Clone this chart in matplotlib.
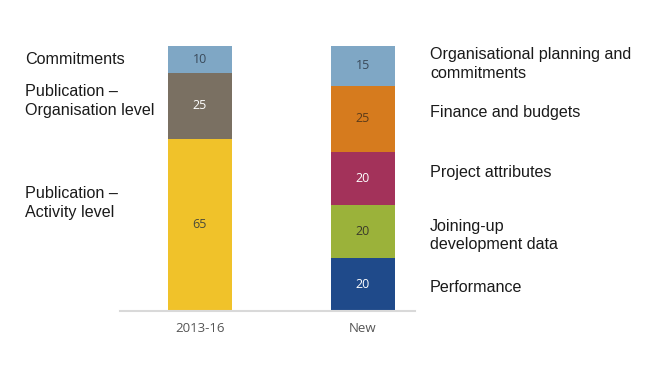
import matplotlib
matplotlib.use("Agg")
import matplotlib.pyplot as plt

categories = ["2013-16", "New"]

old_labels = ["Publication –\nActivity level", "Publication –\nOrganisation level", "Commitments"]
old_values = [65, 25, 10]
old_colors = ["#f0c22a", "#7a7062", "#7fa7c5"]
old_text_colors = ["#4a4a3a", "white", "#3a4a5a"]

new_labels = ["Performance", "Joining-up\ndevelopment data", "Project attributes",
              "Finance and budgets", "Organisational planning and\ncommitments"]
new_values = [20, 20, 20, 25, 15]
new_colors = ["#1f4a8a", "#9bb23a", "#a3325a", "#d67b1e", "#7fa7c5"]
new_text_colors = ["white", "#3a3a2a", "white", "#5a3a1a", "#3a4a5a"]

W, H = 648, 374
fig = plt.figure(figsize=(W / 100, H / 100), dpi=100)
ax = fig.add_axes([120 / W, (H - 311) / H, 295 / W, 265 / H])
ax.set_xlim(-0.49, 1.32)
ax.set_ylim(0, 100)

bw = 0.39
val_font = dict(family=["Open Sans", "DejaVu Sans"], fontsize=9)

def stack(x, values, colors, tcolors):
    bottom = 0
    for v, c, tc in zip(values, colors, tcolors):
        ax.bar(x, v, bw, bottom=bottom, color=c, linewidth=0)
        ax.text(x, bottom + v / 2, str(v), ha="center", va="center", color=tc, **val_font)
        bottom += v

stack(0, old_values, old_colors, old_text_colors)
stack(1, new_values, new_colors, new_text_colors)

for s in ["top", "right", "left"]:
    ax.spines[s].set_visible(False)
ax.spines["bottom"].set_color("#d9d9d9")
ax.spines["bottom"].set_linewidth(1.5)
ax.set_yticks([])
ax.set_xticks([0, 1])
ax.set_xticklabels(categories, color="#555555", family=["Open Sans", "DejaVu Sans"], fontsize=9.5)
ax.tick_params(axis="x", length=0, pad=8)

lab_font = dict(family=["Liberation Sans", "DejaVu Sans"], fontsize=11.6, color="#1a1a1a")

left_y = [203, 101, 60]
for lab, yy in zip(old_labels, left_y):
    fig.text(25 / W, (H - yy) / H, lab, ha="left", va="center", linespacing=1.25, **lab_font)

right_y = [287, 235, 173, 112, 64]
for lab, yy in zip(new_labels, right_y):
    fig.text(430 / W, (H - yy) / H, lab, ha="left", va="center", linespacing=1.25, **lab_font)

fig.savefig("out.png", dpi=100)
